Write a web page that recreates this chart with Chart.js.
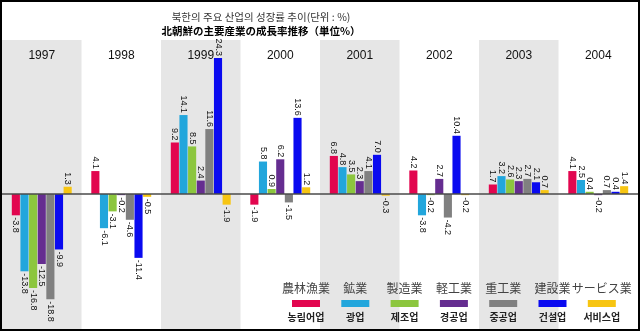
<!DOCTYPE html>
<html>
<head>
<meta charset="utf-8">
<script src="https://cdn.jsdelivr.net/npm/chart.js@4.4.1/dist/chart.umd.min.js"></script>
<style>
  html, body { margin: 0; padding: 0; background: #fff; }
  #frame { width: 640px; height: 331px; border: 2px solid #000; box-sizing: border-box; }
  canvas { display: block; }
</style>
</head>
<body>
<div id="frame"><canvas id="growthChart" width="636" height="327"></canvas></div>
<script>
// years on the x axis
const years = ["1997", "1998", "1999", "2000", "2001", "2002", "2003", "2004"];

// titles
const titleKo = "북한의 주요 산업의 성장률 추이(단위 : %)";
const titleJa = "北朝鮮の主要産業の成長率推移（単位%）";

// industry names (Korean / Japanese) and colours
const seriesKo = ["농림어업", "광업", "제조업", "경공업", "중공업", "건설업", "서비스업"];
const seriesJa = ["農林漁業", "鉱業", "製造業", "軽工業", "重工業", "建設業", "サービス業"];
const seriesColors = ["#e2064f", "#22a6dc", "#8cc63e", "#652d90", "#808080", "#0a0af0", "#f7c512"];

// growth rates (%)
const agriculture   = [-3.8,  4.1,  9.2, -1.9, 6.8,  4.2, 1.7,  4.1];
const mining        = [-13.8, -6.1, 14.1, 5.8, 4.8, -3.8, 3.2,  2.5];
const manufacturing = [-16.8, -3.1, 8.5,  0.9, 3.5, -0.2, 2.6,  0.4];
const lightInd      = [-12.5, -0.2, 2.4,  6.2, 2.3,  2.7, 2.3, -0.2];
const heavyInd      = [-18.8, -4.6, 11.6, -1.5, 4.1, -4.2, 2.7, 0.7];
const construction  = [-9.9, -11.4, 24.3, 13.6, 7.0, 10.4, 2.1, 0.4];
const services      = [1.3,  -0.5, -1.9,  1.2, -0.3, -0.2, 0.7, 1.4];

const seriesValues = [agriculture, mining, manufacturing, lightInd, heavyInd, construction, services];

const latin = "'Liberation Sans', Arial, sans-serif";

// grey/white bands behind every other year, the year names and the title
const bandPlugin = {
    id: "bands",
    beforeDraw(chart) {
        const ctx = chart.ctx;
        const x = chart.scales.x;
        const area = chart.chartArea;
        const half = area.width / years.length / 2;
        ctx.save();
        years.forEach((y, i) => {
            if (i % 2 === 0) {
                let c = x.getPixelForValue(i);
                ctx.fillStyle = "#e6e6e6";
                ctx.fillRect(c - half, area.top, half * 2, chart.height - area.top);
            }
        });
        ctx.fillStyle = "#111";
        ctx.font = "12px " + latin;
        ctx.textAlign = "center";
        ctx.textBaseline = "middle";
        years.forEach((y, i) => {
            ctx.fillText(y, x.getPixelForValue(i), area.top + 16);
        });

        ctx.fillStyle = "#333";
        ctx.font = "10.5px 'Noto Sans CJK KR', sans-serif";
        ctx.fillText(titleKo, 259, 15);
        ctx.fillStyle = "#000";
        ctx.font = "bold 10.5px 'Noto Sans CJK JP', sans-serif";
        ctx.fillText(titleJa, 259, 29);
        ctx.restore();
    }
};

// zero line, rotated value labels and the two-language legend
const labelPlugin = {
    id: "labels",
    afterDatasetsDraw(chart) {
        const ctx = chart.ctx;
        const yScale = chart.scales.y;
        const area = chart.chartArea;
        ctx.save();
        let zero = yScale.getPixelForValue(0);
        ctx.strokeStyle = "#4a4a4a";
        ctx.lineWidth = 1.5;
        ctx.beginPath();
        ctx.moveTo(area.left, zero);
        ctx.lineTo(area.right, zero);
        ctx.stroke();

        ctx.fillStyle = "#111";
        ctx.font = "9px " + latin;
        ctx.textBaseline = "middle";
        chart.data.datasets.forEach((ds, di) => {
            chart.getDatasetMeta(di).data.forEach((bar, i) => {
                let v = ds.data[i];
                ctx.save();
                ctx.translate(bar.x, bar.y);
                ctx.rotate(Math.PI / 2);
                if (v >= 0) {
                    ctx.textAlign = "right";
                    ctx.fillText(v.toFixed(1), -2, 0);
                } else {
                    ctx.textAlign = "left";
                    ctx.fillText(v.toFixed(1), 2, 0);
                }
                ctx.restore();
            });
        });

        // legend
        ctx.textAlign = "center";
        seriesJa.forEach((name, i) => {
            let cx = 304 + i * 49.3;
            ctx.fillStyle = "#444";
            ctx.font = "12px 'Noto Sans CJK JP', sans-serif";
            ctx.fillText(name, cx, 286);
            ctx.fillStyle = seriesColors[i];
            ctx.fillRect(cx - 14, 298, 28, 7);
            ctx.fillStyle = "#222";
            ctx.font = "bold 10px 'Noto Sans CJK KR', sans-serif";
            ctx.fillText(seriesKo[i], cx, 315);
        });
        ctx.restore();
    }
};

new Chart(document.getElementById("growthChart"), {
    type: "bar",
    data: {
        labels: years,
        datasets: seriesValues.map((vals, i) => ({
            label: seriesKo[i],
            data: vals,
            backgroundColor: seriesColors[i],
            categoryPercentage: 0.76,
            barPercentage: 0.94
        }))
    },
    options: {
        responsive: false,
        animation: false,
        layout: { padding: { top: 38, bottom: 0, left: 0, right: 0 } },
        scales: {
            x: { display: false },
            y: { display: false, min: -24.1, max: 27.5 }
        },
        plugins: {
            legend: { display: false },
            tooltip: { enabled: false }
        }
    },
    plugins: [bandPlugin, labelPlugin]
});
</script>
</body>
</html>
